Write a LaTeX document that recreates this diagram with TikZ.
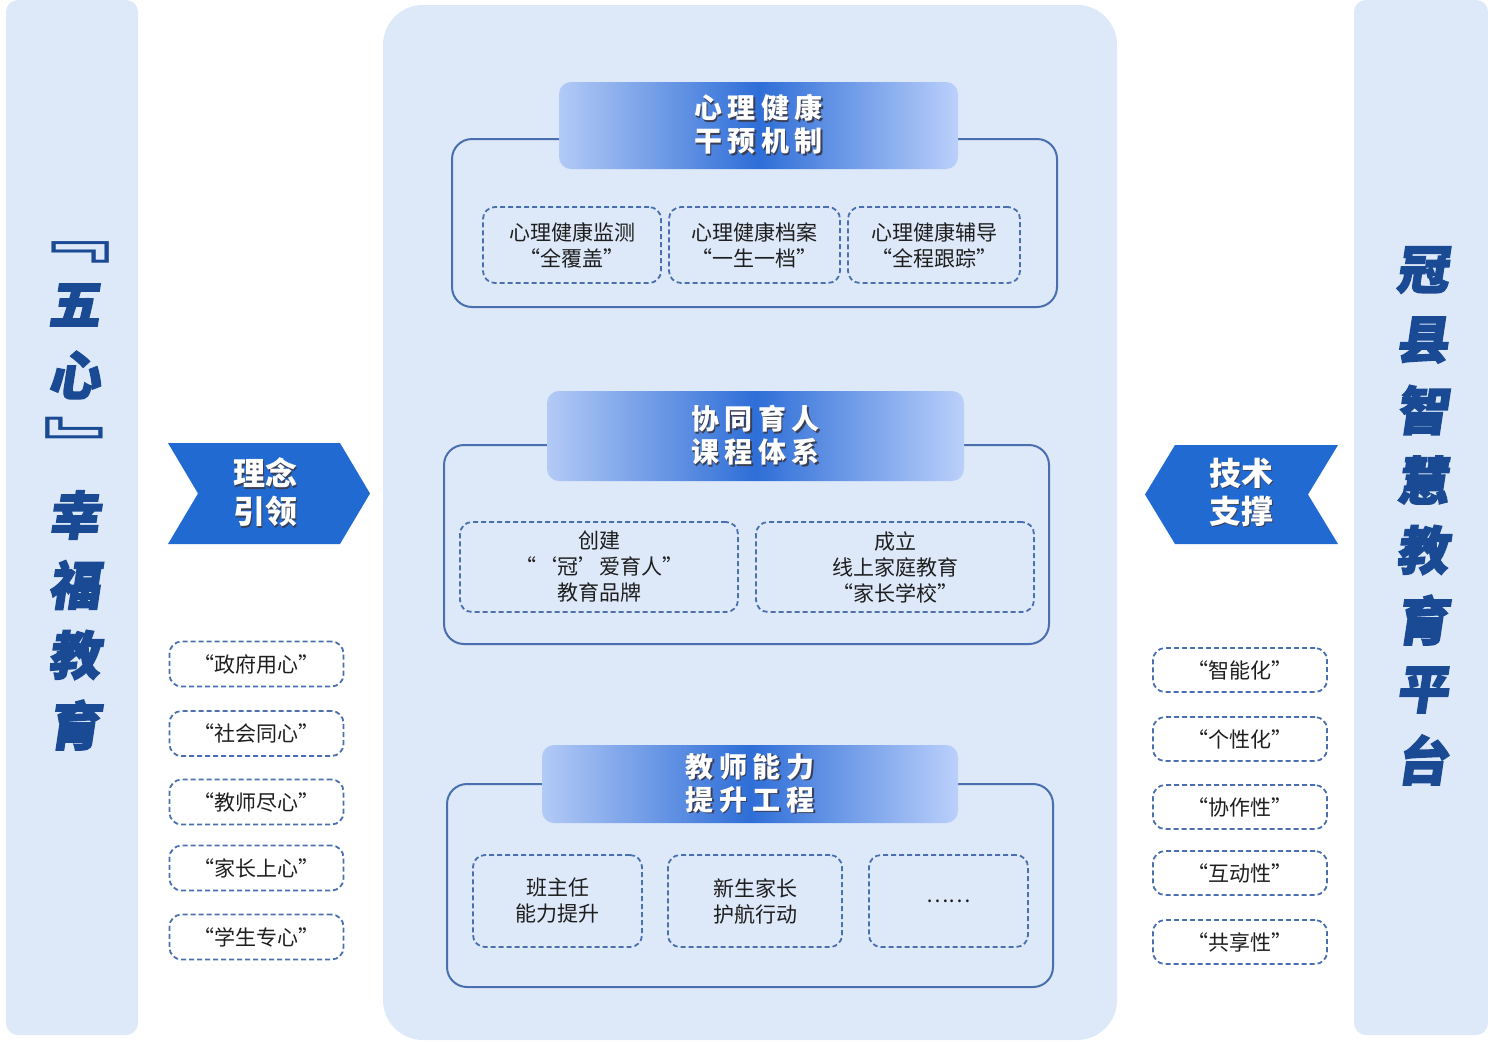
\documentclass[tikz,border=0pt]{standalone}
\usepackage{fontspec}
\newfontfamily\cjk{Noto Sans CJK SC}
\newfontfamily\cjkhead[LetterSpace=20]{Noto Sans CJK SC}
\newfontfamily\cjktitle[FakeSlant=0.15, FakeBold=2.5, BoldFeatures={FakeSlant=0.15, FakeBold=2.5}]{Noto Sans CJK SC}
\usetikzlibrary{positioning}
\definecolor{cpanel}{HTML}{DDE8F9}
\definecolor{cline}{HTML}{4A6FAE}
\definecolor{carrow}{HTML}{216AD2}
\definecolor{ctitle}{HTML}{1B4A94}
\definecolor{cheadl}{HTML}{B3CAF6}
\definecolor{cheadm}{HTML}{2E6ED7}
\definecolor{cheadr}{HTML}{BBD0FB}
\definecolor{ctext}{HTML}{1E1E1E}
\definecolor{cshadow}{HTML}{3A3F55}
\newcommand\shadowed[1]{\leavevmode\rlap{\hspace{0.8pt}\raisebox{-0.8pt}{\textcolor{cshadow}{#1}}}#1}
\tikzset{
  every picture/.style={x=0.5pt, y=-0.5pt, font=\cjk},
  panel/.style={fill=cpanel, draw=none, rounded corners=#1, inner sep=0pt},
  panel/.default=6pt,
  frame/.style={draw=cline, line width=1pt, rounded corners=10pt, inner sep=0pt},
  head/.style={left color=cheadl, right color=cheadr, middle color=cheadm, rounded corners=6pt, text=white, align=center, inner sep=0pt, font=\cjkhead\bfseries\fontsize{14}{16.5}\selectfont},
  item/.style={draw=cline, dash pattern=on 2.5pt off 1.5pt, line width=0.9pt, rounded corners=6pt, align=center, text=ctext, inner sep=0pt, font=\cjk\fontsize{10.5}{13}\selectfont},
  title/.style={text=ctitle, inner sep=0pt, font=\cjktitle\bfseries\fontsize{26}{35}\selectfont},
  bracket/.style={text=ctitle, inner sep=0pt, xscale=1.45, font=\cjk\bfseries\fontsize{30}{35}\selectfont},
  tag/.style={text=white, align=center, inner sep=0pt, font=\cjk\bfseries\fontsize{16}{19}\selectfont},
}

\begin{document}
\begin{tikzpicture}
  \useasboundingbox (0,0) rectangle (1488,1041);
  \node[panel, minimum width=66pt, minimum height=517.5pt] (lpanel) at (72,517.5) {};
  \node[panel, minimum width=67pt, minimum height=517.5pt] (rpanel) at (1421,517.5) {};
  \node[panel=20pt, minimum width=367pt, minimum height=517.5pt] (cpanel) at (750,522.5) {};

  \node[bracket] (lbra) at (68,252) {﹃};
  \node[bracket] (rbra) at (87,443) {﹄};
  \foreach \c/\y [count=\i] in {五/305, 心/375, 幸/515, 福/585, 教/655, 育/725}
    \node[title] (ltitle\i) at (74,\y) {\c};
  \foreach \c [count=\i] in {冠, 县, 智, 慧, 教, 育, 平, 台}
    \node[title] (rtitle\i) at (1422,200+70*\i) {\c};

  \fill[carrow] (168,443) -- (340,443) -- (370,493.5) -- (340,544) -- (168,544) -- (198,493.5) -- cycle;
  \node[tag] (idea) at (265,493) {\shadowed{理念}\\\shadowed{引领}};
  \fill[carrow] (1175,445) -- (1338,445) -- (1308,494.5) -- (1338,544) -- (1175,544) -- (1145,494.5) -- cycle;
  \node[tag] (tech) at (1241,493) {\shadowed{技术}\\\shadowed{支撑}};

  \foreach \t/\y [count=\i] in {政府用心/664, 社会同心/733.5, 教师尽心/802, 家长上心/868, 学生专心/937}
    \node[item, minimum width=87pt, minimum height=22.5pt] (heart\i) at (256.5,\y) {“\t”};
  \foreach \t/\y [count=\i] in {智能化/670, 个性化/739, 协作性/807, 互动性/873, 共享性/942}
    \node[item, minimum width=87pt, minimum height=22pt] (feat\i) at (1240,\y) {“\t”};

  \node[frame, minimum width=302.5pt, minimum height=84pt] (grp1) at (754.5,223) {};
  \node[head, minimum width=199.5pt, minimum height=43.5pt] (head1) at (758.5,125.5) {\shadowed{心理健康}\\\shadowed{干预机制}};
  \node[item, minimum width=89pt, minimum height=38pt] (psy1) at (572,245) {心理健康监测\\“全覆盖”};
  \node[item, minimum width=85.5pt, minimum height=38pt] (psy2) at (754.5,245) {心理健康档案\\“一生一档”};
  \node[item, minimum width=86pt, minimum height=38pt] (psy3) at (934,245) {心理健康辅导\\“全程跟踪”};

  \node[frame, minimum width=302.5pt, minimum height=99.5pt] (grp2) at (746.5,544.5) {};
  \node[head, minimum width=208.5pt, minimum height=45pt] (head2) at (755.5,436) {\shadowed{协同育人}\\\shadowed{课程体系}};
  \node[item, minimum width=139pt, minimum height=45pt] (co1) at (599,567) {创建\\“‘冠’爱育人”\\教育品牌};
  \node[item, minimum width=139pt, minimum height=45pt] (co2) at (895,567) {成立\\线上家庭教育\\“家长学校”};

  \node[frame, minimum width=303pt, minimum height=101.5pt] (grp3) at (750,885.5) {};
  \node[head, minimum width=208pt, minimum height=39pt] (head3) at (750,784) {\shadowed{教师能力}\\\shadowed{提升工程}};
  \node[item, minimum width=84.5pt, minimum height=46pt] (tea1) at (557.5,901) {班主任\\能力提升};
  \node[item, minimum width=87pt, minimum height=46pt] (tea2) at (755,901) {新生家长\\护航行动};
  \node[item, minimum width=79.5pt, minimum height=46pt] (tea3) at (948.5,901) {……};
\end{tikzpicture}
\end{document}
